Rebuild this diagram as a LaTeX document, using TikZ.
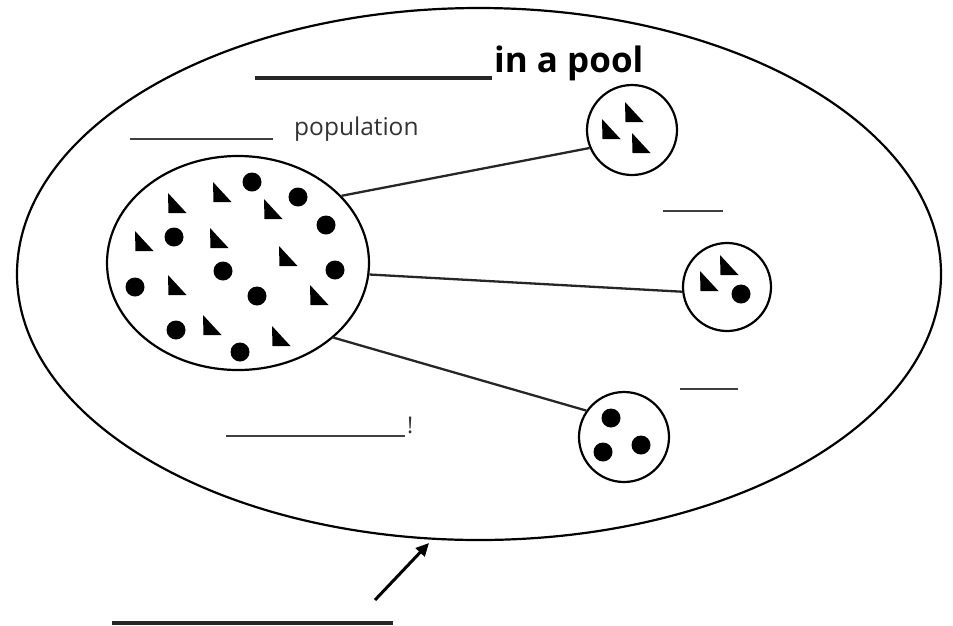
\documentclass[tikz,border=0pt]{standalone}
\usepackage{fontspec}
\setmainfont{Open Sans}
\usetikzlibrary{shapes.geometric,arrows.meta}
\tikzset{
  ring/.style={draw=black, line width=2.2pt, inner sep=0pt},
  link/.style={draw=black!85, line width=2.3pt},
  blank/.style={draw=black!75, line width=2.6pt},
  dot/.style={fill=black},
  lbl/.style={inner sep=0pt, anchor=base west, text=black!80}
}
\newcommand\tri[2]{\fill (#1,#2) -- ++(0.5,20) -- ++(18,0) -- cycle;}
\newcommand\dt[2]{\fill (#1,#2) circle[radius=9.5pt];}
\begin{document}
\begin{tikzpicture}[x=1pt,y=-1pt]
\useasboundingbox (0,0) rectangle (953,625);
% outer pool
\node[ring, ellipse, minimum width=924pt, minimum height=532pt] (pool) at (479,274) {};
% title
\draw[blank, draw=black!85, line width=3.2pt] (255,78) -- (492,78);
\node[lbl, text=black, font=\fontsize{35}{40}\selectfont\bfseries] (title) at (494,72) {in a pool};
% population label
\draw[blank] (130,139) -- (273,139);
\node[lbl, font=\fontsize{24.5}{28}\selectfont] (poplbl) at (294,135) {population};
% big population
\node[ring, ellipse, minimum width=262pt, minimum height=214pt] (pop) at (238,263) {};
% small samples
\node[ring, circle, minimum size=90pt] (c1) at (632,130) {};
\node[ring, circle, minimum size=88pt] (c2) at (727,287) {};
\node[ring, circle, minimum size=90pt] (c3) at (624,437) {};
% connectors
\draw[link] (pop.33.7) -- (c1.203.2);
\draw[link] (pop.-5.2) -- (c2.186.5);
\draw[link] (pop.-38.3) -- (c3.145.4);
% blanks
\draw[blank, line width=2.3pt] (663,211) -- (723,211);
\draw[blank, line width=2.3pt] (680,389) -- (738,389);
\draw[blank] (226,436) -- (405,436);
\node[lbl, font=\fontsize{23}{26}\selectfont] (excl) at (407,433) {!};
\draw[blank, draw=black!85, line width=3.2pt] (112,623) -- (393,623);
% arrow
\coordinate (tail) at (375,600);
\coordinate (tip) at (429,543);
\draw[line width=3pt, -{Triangle[length=13pt,width=12pt]}] (tail) -- (tip);
% individuals in population
\dt{252}{182}\dt{298}{197}\dt{326}{225}\dt{174}{237}\dt{223}{271}
\dt{335}{270}\dt{135}{287}\dt{257}{296}\dt{176}{330}\dt{240}{352}
\tri{168}{193}\tri{213}{182}\tri{264}{199}\tri{135}{231}\tri{210}{228}
\tri{279}{246}\tri{168}{275}\tri{310}{285}\tri{203}{315}\tri{272}{326}
% sample 1
\tri{625}{102}\tri{602}{119}\tri{632}{133}
% sample 2
\tri{720}{255}\tri{700}{271}\dt{741}{294}
% sample 3
\dt{611}{418}\dt{603}{452}\dt{641}{445}
\end{tikzpicture}
\end{document}
